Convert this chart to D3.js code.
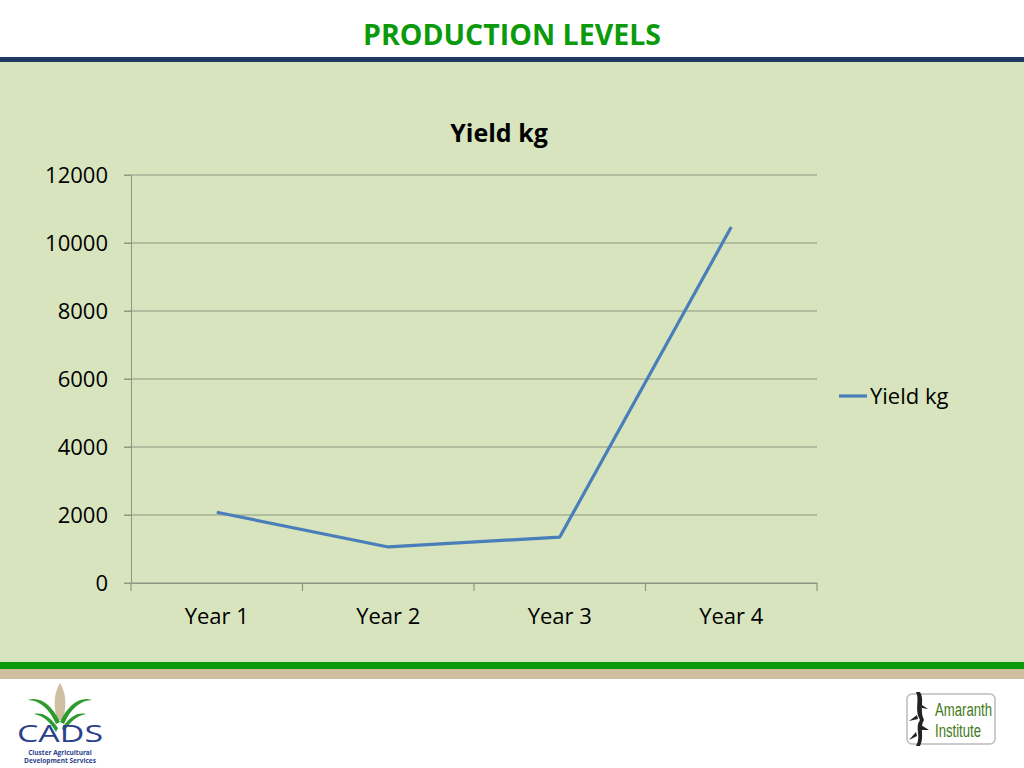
<!DOCTYPE html>
<html><head><meta charset="utf-8">
<script src="https://cdn.jsdelivr.net/npm/d3@7"></script>
<style>body{margin:0;background:#fff}svg{display:block}</style>
</head><body>
<svg id="c" width="1024" height="768"></svg>
<script>
const categories = ["Year 1", "Year 2", "Year 3", "Year 4"];
const yieldKg = [2080, 1060, 1350, 10470];
const yTicks = [0, 2000, 4000, 6000, 8000, 10000, 12000];
const seriesName = "Yield kg";
const slideTitle = "PRODUCTION LEVELS";

const svg = d3.select("#c");
const font = "'Open Sans', 'Noto Sans', sans-serif";

// slide background bands
svg.append("rect").attr("x",0).attr("y",0).attr("width",1024).attr("height",768).attr("fill","#fff");
svg.append("rect").attr("x",0).attr("y",62).attr("width",1024).attr("height",601).attr("fill","#d7e4bd");
svg.append("rect").attr("x",0).attr("y",57).attr("width",1024).attr("height",5).attr("fill","#1f3864");
svg.append("rect").attr("x",0).attr("y",662).attr("width",1024).attr("height",7).attr("fill","#0a9a0a");
svg.append("rect").attr("x",0).attr("y",669).attr("width",1024).attr("height",10).attr("fill","#cfbf9e");

svg.append("text").attr("x",512).attr("y",45).attr("text-anchor","middle")
  .attr("font-family","'Open Sans', sans-serif").attr("font-weight","bold").attr("font-size",29)
  .attr("fill","#0a9a0a").attr("textLength",298).attr("lengthAdjust","spacingAndGlyphs").text(slideTitle);

// chart
const x = d3.scaleBand().domain(categories).range([131,817]);
const y = d3.scaleLinear().domain([0,12000]).range([583,175]);

svg.append("text").attr("x",499).attr("y",142).attr("text-anchor","middle")
  .attr("font-family",font).attr("font-weight","bold").attr("font-size",25).attr("fill","#000").text(seriesName);

const grid = svg.append("g");
grid.selectAll("line").data(yTicks).join("line")
  .attr("x1",124).attr("x2",817).attr("y1",d=>y(d)).attr("y2",d=>y(d))
  .attr("stroke","#8c9682").attr("stroke-width",1.2);

const yAxis = svg.append("g").attr("transform","translate(131,0)")
  .call(d3.axisLeft(y).tickValues(yTicks).tickSize(7).tickPadding(16).tickFormat(d3.format("d")));
yAxis.select(".domain").attr("stroke","#8c9682");
yAxis.selectAll(".tick line").attr("stroke","#8c9682");
yAxis.selectAll("text").attr("font-family",font).attr("font-size",22).attr("fill","#000");

const xAxis = svg.append("g").attr("transform","translate(0,583)")
  .call(d3.axisBottom(x).tickSize(0).tickPadding(25));
xAxis.select(".domain").attr("stroke","#8c9682");
xAxis.selectAll("text").attr("font-family",font).attr("font-size",22).attr("fill","#000");
const edges = categories.map(c=>x(c)).concat([x.range()[1]]);
svg.append("g").selectAll("line").data(edges).join("line")
  .attr("x1",d=>d).attr("x2",d=>d).attr("y1",583).attr("y2",591)
  .attr("stroke","#8c9682").attr("stroke-width",1.2);

const line = d3.line().x((d,i)=>x(categories[i])+x.bandwidth()/2).y(d=>y(d));
svg.append("path").datum(yieldKg).attr("d",line).attr("fill","none")
  .attr("stroke","#4a7ebb").attr("stroke-width",3.2).attr("stroke-linejoin","round");

// legend
svg.append("line").attr("x1",839).attr("x2",867).attr("y1",396).attr("y2",396)
  .attr("stroke","#4a7ebb").attr("stroke-width",3.2);
svg.append("text").attr("x",870).attr("y",404).attr("font-family",font).attr("font-size",22)
  .attr("fill","#000").text(seriesName);

// CADS logo
const cads = svg.append("g");
cads.append("path").attr("d","M57,720 C52,700 56,690 60,683 C64,690 68,700 63,720 Z").attr("fill","#cdbf9f");
cads.append("path").attr("d","M60,722 C52,705 40,696 28,700 C40,700 50,710 56,724 Z").attr("fill","#2e9b2e");
cads.append("path").attr("d","M60,722 C68,705 80,696 92,700 C80,700 70,710 64,724 Z").attr("fill","#2e9b2e");
cads.append("path").attr("d","M58,728 C50,716 42,712 34,714 C44,716 50,722 56,732 Z").attr("fill","#2e9b2e");
cads.append("path").attr("d","M62,728 C70,716 78,712 86,714 C76,716 70,722 64,732 Z").attr("fill","#2e9b2e");
cads.append("text").attr("x",60).attr("y",742).attr("text-anchor","middle").attr("font-family","'Open Sans', sans-serif")
  .attr("font-size",24).attr("fill","#2b3f8c").attr("textLength",86).attr("lengthAdjust","spacingAndGlyphs").text("CADS");
cads.append("text").attr("x",60).attr("y",755).attr("text-anchor","middle").attr("font-family","'Open Sans', sans-serif")
  .attr("font-size",6.5).attr("font-weight","bold").attr("fill","#2b3f8c").text("Cluster Agricultural");
cads.append("text").attr("x",60).attr("y",763).attr("text-anchor","middle").attr("font-family","'Open Sans', sans-serif")
  .attr("font-size",6.5).attr("font-weight","bold").attr("fill","#2b3f8c").text("Development Services");

// Amaranth Institute logo
const am = svg.append("g");
am.append("rect").attr("x",907).attr("y",694).attr("width",88).attr("height",50).attr("rx",5)
  .attr("fill","#fff").attr("stroke","#bbb").attr("stroke-width",1.5);
am.append("path").attr("d","M916,692 C920,700 914,710 920,720 C914,728 922,736 916,746 L920,746 C925,736 919,728 924,720 C919,710 925,700 920,692 Z").attr("fill","#222");
am.append("path").attr("d","M917,715 l-8,6 l9,-2 Z M921,725 l8,5 l-8,0 Z M916,732 l-7,8 l8,-4 Z M922,705 l6,4 l-6,-1 Z").attr("fill","#222");
am.append("text").attr("x",935).attr("y",716).attr("font-family","'Liberation Sans Narrow', 'Liberation Sans', sans-serif")
  .attr("font-size",18).attr("fill","#3f7a17").attr("textLength",57).attr("lengthAdjust","spacingAndGlyphs").text("Amaranth");
am.append("text").attr("x",935).attr("y",737).attr("font-family","'Liberation Sans Narrow', 'Liberation Sans', sans-serif")
  .attr("font-size",18).attr("fill","#3f7a17").attr("textLength",46).attr("lengthAdjust","spacingAndGlyphs").text("Institute");
</script>
</body></html>
